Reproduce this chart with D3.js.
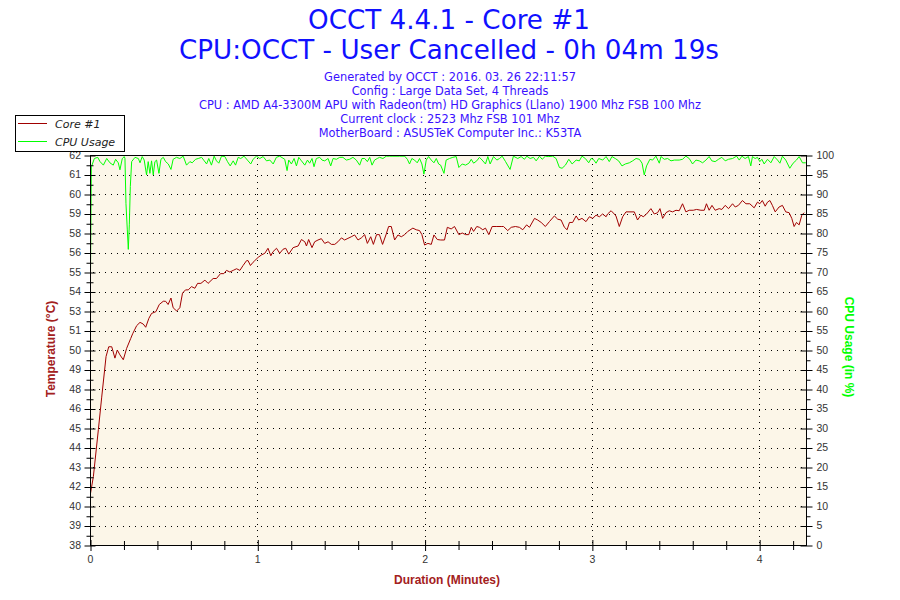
<!DOCTYPE html>
<html><head><meta charset="utf-8">
<script src="https://cdn.jsdelivr.net/npm/d3@7"></script>
<style>body{margin:0;background:#fff;}</style>
</head><body>
<svg id="chart" width="900" height="600"></svg>
<script>
// ---------- DATA ----------
const titleLines = ["OCCT 4.4.1 - Core #1", "CPU:OCCT - User Cancelled - 0h 04m 19s"];
const infoLines = [
  "Generated by OCCT : 2016. 03. 26 22:11:57",
  "Config : Large Data Set, 4 Threads",
  "CPU : AMD A4-3300M APU with Radeon(tm) HD Graphics (Llano) 1900 Mhz FSB 100 Mhz",
  "Current clock : 2523 Mhz FSB 101 Mhz",
  "MotherBoard : ASUSTeK Computer Inc.: K53TA"
];
const seriesNames = ["Core #1", "CPU Usage"];
const xTickLabels = [0, 1, 2, 3, 4];
const cpuTickLabels = [0,5,10,15,20,25,30,35,40,45,50,55,60,65,70,75,80,85,90,95,100];
const tempTickLabels = ["38","39","40","42","43","44","45","46","48","49","50","51","53","54","55","56","58","59","60","61","62"];

const tempMinutes = [0.000,0.020,0.050,0.070,0.096,0.112,0.130,0.149,0.163,0.179,0.199,0.219,0.243,0.255,0.279,0.299,0.318,0.333,0.352,0.368,0.394,0.414,0.438,0.452,0.467,0.484,0.497,0.518,0.537,0.553,0.571,0.587,0.607,0.627,0.643,0.663,0.687,0.706,0.736,0.756,0.780,0.800,0.816,0.836,0.856,0.876,0.896,0.915,0.936,0.945,0.959,0.975,0.985,1.005,1.025,1.045,1.064,1.081,1.094,1.115,1.134,1.154,1.170,1.188,1.214,1.244,1.264,1.284,1.294,1.307,1.327,1.343,1.363,1.383,1.403,1.423,1.443,1.463,1.482,1.503,1.522,1.542,1.562,1.582,1.602,1.622,1.642,1.658,1.678,1.694,1.713,1.730,1.749,1.769,1.785,1.801,1.821,1.841,1.861,1.881,1.900,1.930,1.950,1.970,1.984,2.000,2.020,2.040,2.056,2.076,2.096,2.119,2.136,2.159,2.179,2.205,2.225,2.245,2.264,2.279,2.293,2.312,2.328,2.348,2.364,2.384,2.404,2.428,2.458,2.472,2.497,2.518,2.543,2.567,2.587,2.610,2.627,2.657,2.676,2.697,2.722,2.746,2.776,2.796,2.816,2.836,2.852,2.866,2.885,2.906,2.921,2.941,2.965,2.985,3.005,3.025,3.045,3.064,3.085,3.094,3.115,3.134,3.144,3.164,3.184,3.204,3.228,3.254,3.273,3.293,3.307,3.327,3.353,3.373,3.393,3.407,3.423,3.443,3.463,3.482,3.503,3.522,3.542,3.562,3.582,3.606,3.626,3.652,3.672,3.685,3.701,3.718,3.737,3.761,3.777,3.797,3.817,3.841,3.857,3.876,3.900,3.921,3.944,3.970,3.990,4.004,4.019,4.036,4.050,4.064,4.079,4.096,4.119,4.139,4.159,4.179,4.195,4.209,4.223,4.239,4.255,4.269];
const tempValues = [41.0,42.2,45.1,47.1,49.6,50.2,50.2,49.5,50.0,49.7,49.4,50.1,50.7,51.0,51.5,51.7,51.6,51.4,51.95,52.25,52.36,52.8,53.0,53.0,52.8,53.2,52.6,52.4,52.6,53.5,53.7,53.7,53.9,53.8,54.1,54.1,54.3,54.1,54.4,54.4,54.7,54.7,54.9,54.8,54.9,55.0,54.9,55.2,55.5,55.5,55.2,55.4,55.5,55.7,55.85,55.95,56.26,55.8,56.05,56.26,55.95,56.2,56.26,55.9,56.3,56.4,56.8,56.66,56.4,56.8,56.3,56.66,56.77,56.85,56.56,56.66,56.5,56.5,56.66,56.9,56.77,56.87,56.97,57.08,56.77,56.9,57.1,56.56,56.97,56.5,57.1,57.1,56.5,57.08,57.6,57.6,56.77,57.08,56.97,57.1,57.3,57.5,57.4,57.35,57.1,56.46,56.56,56.5,57.08,56.8,56.77,56.77,57.55,57.45,57.6,57.1,57.2,57.1,57.1,57.55,57.3,57.6,57.55,57.4,57.5,57.1,57.6,57.6,57.6,57.6,57.35,57.55,57.6,57.55,57.4,57.7,57.55,58.1,58.0,57.85,57.6,57.9,58.25,58.05,58.0,57.55,57.4,57.85,57.85,58.25,58.0,58.1,57.9,58.2,58.1,58.3,58.2,58.37,58.2,58.37,58.57,58.37,58.25,57.6,58.2,58.5,58.5,58.5,58.0,58.3,58.2,58.37,58.7,58.37,58.45,58.7,58.1,58.45,58.57,58.5,58.6,58.57,59.0,58.5,58.6,58.6,58.65,58.6,58.6,59.0,58.6,58.9,58.6,58.7,58.65,58.9,58.7,59.0,58.8,58.9,59.2,59.0,59.0,58.75,59.1,59.0,59.2,58.85,59.1,59.2,58.9,58.5,58.8,58.9,58.5,58.45,58.1,57.6,57.85,57.7,58.3,58.45];

const cpuMinutes = [0.000,0.008,0.012,0.026,0.046,0.060,0.080,0.100,0.119,0.139,0.153,0.169,0.179,0.193,0.205,0.209,0.215,0.223,0.229,0.235,0.241,0.249,0.269,0.289,0.299,0.312,0.324,0.338,0.348,0.358,0.368,0.378,0.388,0.398,0.412,0.424,0.438,0.452,0.468,0.484,0.497,0.517,0.537,0.557,0.577,0.597,0.611,0.631,0.647,0.667,0.683,0.697,0.710,0.726,0.742,0.756,0.770,0.786,0.806,0.822,0.838,0.856,0.870,0.886,0.901,0.921,0.941,0.961,0.975,0.995,1.015,1.035,1.055,1.075,1.095,1.114,1.134,1.164,1.178,1.188,1.204,1.220,1.234,1.248,1.264,1.284,1.300,1.313,1.327,1.339,1.353,1.373,1.387,1.403,1.423,1.439,1.453,1.473,1.493,1.512,1.532,1.552,1.572,1.592,1.612,1.626,1.642,1.658,1.672,1.686,1.701,1.717,1.731,1.751,1.771,1.791,1.811,1.851,1.881,1.897,1.910,1.924,1.940,1.956,1.970,1.984,1.996,2.010,2.024,2.040,2.056,2.070,2.084,2.096,2.116,2.129,2.149,2.169,2.189,2.205,2.225,2.245,2.265,2.279,2.293,2.312,2.328,2.344,2.364,2.378,2.392,2.412,2.432,2.448,2.464,2.484,2.511,2.531,2.557,2.577,2.597,2.611,2.631,2.651,2.667,2.687,2.703,2.722,2.742,2.766,2.786,2.806,2.822,2.842,2.862,2.882,2.906,2.925,2.941,2.961,2.981,2.995,3.009,3.025,3.041,3.065,3.085,3.104,3.120,3.140,3.160,3.180,3.200,3.224,3.244,3.264,3.284,3.300,3.313,3.327,3.347,3.363,3.383,3.403,3.413,3.433,3.453,3.473,3.493,3.522,3.542,3.562,3.582,3.602,3.622,3.642,3.662,3.682,3.701,3.717,3.737,3.757,3.777,3.797,3.817,3.841,3.865,3.881,3.897,3.916,3.936,3.950,3.960,3.976,3.990,4.004,4.016,4.030,4.050,4.070,4.090,4.110,4.124,4.139,4.159,4.183,4.203,4.223,4.239,4.259,4.279];
const cpuValues = [53.4,97.0,97.4,99.1,99.4,98.3,97.4,99.1,98.0,97.4,98.9,98.0,96.2,99.1,99.6,99.1,87.6,80.8,75.8,82.1,91.9,98.3,99.4,99.1,98.0,99.6,98.7,94.9,98.3,95.3,98.5,94.9,98.3,98.7,95.3,98.9,99.4,98.3,97.7,96.3,98.9,99.4,99.1,99.7,97.4,98.3,98.0,98.9,99.1,99.4,98.5,97.7,99.1,97.4,99.7,98.5,97.9,99.7,99.6,98.3,97.2,98.5,97.4,99.4,99.1,99.7,98.7,97.7,98.9,99.7,99.1,99.6,98.5,98.7,97.7,99.4,99.7,98.9,96.0,98.7,97.7,99.1,97.2,99.4,98.5,97.4,98.7,97.9,99.1,97.0,99.1,99.4,98.7,98.5,99.1,97.2,99.1,98.9,99.4,99.4,98.7,98.9,99.4,98.7,97.4,99.1,99.1,98.3,99.4,97.4,98.7,99.1,99.4,99.1,99.7,99.7,99.7,99.7,99.7,98.9,97.7,99.1,98.7,98.0,99.1,97.7,95.1,98.7,99.6,98.7,98.0,99.1,97.7,97.4,95.3,98.7,99.1,99.4,99.6,96.8,97.7,97.4,97.9,98.9,97.9,98.5,99.4,98.7,97.7,99.6,97.7,99.6,98.7,99.1,99.7,98.3,96.3,99.7,99.1,99.6,98.9,99.7,99.1,99.4,98.5,99.7,98.9,99.7,99.6,99.7,99.1,96.8,96.6,97.4,98.9,97.7,98.7,98.5,99.7,99.1,98.0,99.1,98.9,97.9,99.1,98.7,99.6,98.3,99.6,99.1,98.5,97.2,97.7,98.0,98.5,99.1,98.9,97.9,94.9,97.2,98.9,98.7,99.7,97.9,99.6,98.9,99.1,98.5,98.7,98.7,98.9,99.7,99.1,97.7,98.7,98.5,98.0,98.7,99.6,98.5,98.3,98.9,99.4,98.5,98.9,99.1,99.7,98.7,99.7,99.1,99.6,97.2,99.6,99.1,99.4,98.3,98.9,97.7,98.9,98.0,99.6,98.7,97.9,99.7,98.7,96.6,97.9,98.7,99.6,98.0,98.0];

// ---------- LAYOUT ----------
const plot = {left: 90, right: 806.5, top: 155, bottom: 545};
const colTemp = "#a00000", colCpu = "#00ff00", colTitle = "#1010ff", colInfo = "#3a10ff";
const bg = "#fcf6e8";

const svg = d3.select("#chart");
svg.append("rect").attr("width", 900).attr("height", 600).attr("fill", "#fff");

const x = d3.scaleLinear().domain([0, 4.283]).range([plot.left, plot.right]);
const yCpu = d3.scaleLinear().domain([0, 100]).range([plot.bottom, plot.top]);
const yTemp = d3.scaleLinear().domain([38, 62]).range([plot.bottom, plot.top]);

// titles
svg.selectAll("text.title").data(titleLines).join("text")
  .attr("x", 449).attr("y", (d, i) => 29 + i * 30)
  .attr("text-anchor", "middle")
  .attr("font-family", "DejaVu Sans, Verdana, sans-serif")
  .attr("font-size", 26.2).attr("fill", colTitle).text(d => d);
svg.selectAll("text.info").data(infoLines).join("text")
  .attr("x", 450).attr("y", (d, i) => 81 + i * 13.9)
  .attr("text-anchor", "middle")
  .attr("font-family", "DejaVu Sans, Verdana, sans-serif")
  .attr("font-size", 11.4).attr("fill", colInfo).text(d => d);

// plot background
svg.append("rect").attr("x", plot.left).attr("y", plot.top)
  .attr("width", plot.right - plot.left).attr("height", plot.bottom - plot.top)
  .attr("fill", bg);

// gridlines
const grid = svg.append("g").attr("stroke", "#000").attr("stroke-width", 1).attr("stroke-dasharray", "1,5");
grid.selectAll("line.h").data(cpuTickLabels.filter(v => v > 0 && v < 100)).join("line")
  .attr("x1", plot.left + 3).attr("x2", plot.right)
  .attr("y1", d => Math.round(yCpu(d)) + 0.5).attr("y2", d => Math.round(yCpu(d)) + 0.5);
grid.selectAll("line.v").data(xTickLabels.filter(v => v > 0)).join("line")
  .attr("y1", plot.top + 3).attr("y2", plot.bottom)
  .attr("x1", d => Math.round(x(d)) + 0.5).attr("x2", d => Math.round(x(d)) + 0.5);

// clip
svg.append("clipPath").attr("id", "clip").append("rect")
  .attr("x", plot.left).attr("y", plot.top - 1)
  .attr("width", plot.right - plot.left).attr("height", plot.bottom - plot.top + 1);

const cpuData = cpuMinutes.map((m, i) => [m, cpuValues[i]]);
const tempData = tempMinutes.map((m, i) => [m, tempValues[i]]);

const gLines = svg.append("g").attr("clip-path", "url(#clip)");
gLines.append("path").datum(cpuData)
  .attr("fill", "none").attr("stroke", colCpu).attr("stroke-width", 1)
  .attr("d", d3.line().x(d => x(d[0])).y(d => yCpu(d[1])));
gLines.append("path").datum(tempData)
  .attr("fill", "none").attr("stroke", colTemp).attr("stroke-width", 1)
  .attr("d", d3.line().x(d => x(d[0])).y(d => yTemp(d[1])));

// frame
svg.append("rect").attr("x", plot.left + 0.5).attr("y", plot.top + 0.5)
  .attr("width", plot.right - plot.left - 0.5).attr("height", plot.bottom - plot.top)
  .attr("fill", "none").attr("stroke", "#000").attr("stroke-width", 1);

function styleAxis(g) {
  g.select(".domain").remove();
  g.selectAll("line").attr("stroke", "#000");
  g.selectAll("text").attr("font-family", "Liberation Sans, Arial, sans-serif")
    .attr("font-size", 10.5).attr("fill", "#333");
}

// x axis
const minutesMinor = d3.range(0, 4.3, 0.2).filter(v => Math.abs(v - Math.round(v)) > 0.01);
svg.append("g").attr("transform", `translate(0.5,${plot.bottom - 4})`)
  .call(d3.axisBottom(x).tickValues(minutesMinor).tickSize(9).tickFormat(""))
  .call(styleAxis);
svg.append("g").attr("transform", `translate(0.5,${plot.bottom - 5})`)
  .call(d3.axisBottom(x).tickValues(xTickLabels).tickSize(11).tickFormat(""))
  .call(styleAxis);
svg.append("g").attr("transform", `translate(0,${plot.bottom})`)
  .call(d3.axisBottom(x).tickValues(xTickLabels).tickSize(0).tickPadding(11).tickFormat(d3.format("d")))
  .call(styleAxis);

// right (cpu) axis
const cpuMinor = cpuTickLabels.slice(0, -1).map(v => v + 2.5);
svg.append("g").attr("transform", `translate(${plot.right},0.5)`)
  .call(d3.axisRight(yCpu).tickValues(cpuMinor).tickSize(4).tickFormat(""))
  .call(styleAxis);
svg.append("g").attr("transform", `translate(${plot.right - 6},0.5)`)
  .call(d3.axisRight(yCpu).tickValues(cpuTickLabels).tickSize(12).tickFormat(""))
  .call(styleAxis);
svg.append("g").attr("transform", `translate(${plot.right},0)`)
  .call(d3.axisRight(yCpu).tickValues(cpuTickLabels).tickSize(0).tickPadding(10))
  .call(styleAxis);

// left (temperature) axis: labels sit on the same grid positions
const tempTickPos = tempTickLabels.map((t, i) => yTemp.invert(yCpu(cpuTickLabels[i])));
const tempMinorPos = tempTickPos.slice(0, -1).map((v, i) => (v + tempTickPos[i + 1]) / 2);
svg.append("g").attr("transform", `translate(${plot.left + 3.5},0.5)`)
  .call(d3.axisLeft(yTemp).tickValues(tempMinorPos).tickSize(7).tickFormat(""))
  .call(styleAxis);
svg.append("g").attr("transform", `translate(${plot.left + 5.5},0.5)`)
  .call(d3.axisLeft(yTemp).tickValues(tempTickPos).tickSize(11).tickFormat(""))
  .call(styleAxis);
svg.append("g").attr("transform", `translate(${plot.left},0)`)
  .call(d3.axisLeft(yTemp).tickValues(tempTickPos).tickSize(0).tickPadding(9)
    .tickFormat((d, i) => tempTickLabels[i]))
  .call(styleAxis);

// axis titles
const axisFont = "Liberation Sans, Arial, sans-serif";
svg.append("text").attr("transform", "translate(55,349) rotate(-90)")
  .attr("text-anchor", "middle").attr("font-family", axisFont).attr("font-weight", "bold")
  .attr("font-size", 12).attr("fill", "#a32020").text("Temperature (°C)");
svg.append("text").attr("transform", "translate(845,347) rotate(90)")
  .attr("text-anchor", "middle").attr("font-family", axisFont).attr("font-weight", "bold")
  .attr("font-size", 12).attr("fill", colCpu).text("CPU Usage (in %)");
svg.append("text").attr("x", 447).attr("y", 584)
  .attr("text-anchor", "middle").attr("font-family", axisFont).attr("font-weight", "bold")
  .attr("font-size", 12).attr("fill", "#a32020").text("Duration (Minutes)");

// legend
const lg = svg.append("g");
lg.append("rect").attr("x", 15.5).attr("y", 115.5).attr("width", 109).attr("height", 36)
  .attr("fill", "#fff").attr("stroke", "#000");
const legendColors = [colTemp, colCpu];
seriesNames.forEach((name, i) => {
  const yy = 123.5 + i * 18;
  lg.append("line").attr("x1", 18).attr("x2", 47).attr("y1", yy).attr("y2", yy)
    .attr("stroke", legendColors[i]).attr("stroke-width", 1);
  lg.append("text").attr("x", 55).attr("y", yy + 4)
    .attr("font-family", "DejaVu Sans, Verdana, sans-serif").attr("font-style", "italic")
    .attr("font-size", 11).attr("fill", "#222").text(name);
});
</script>
</body></html>
